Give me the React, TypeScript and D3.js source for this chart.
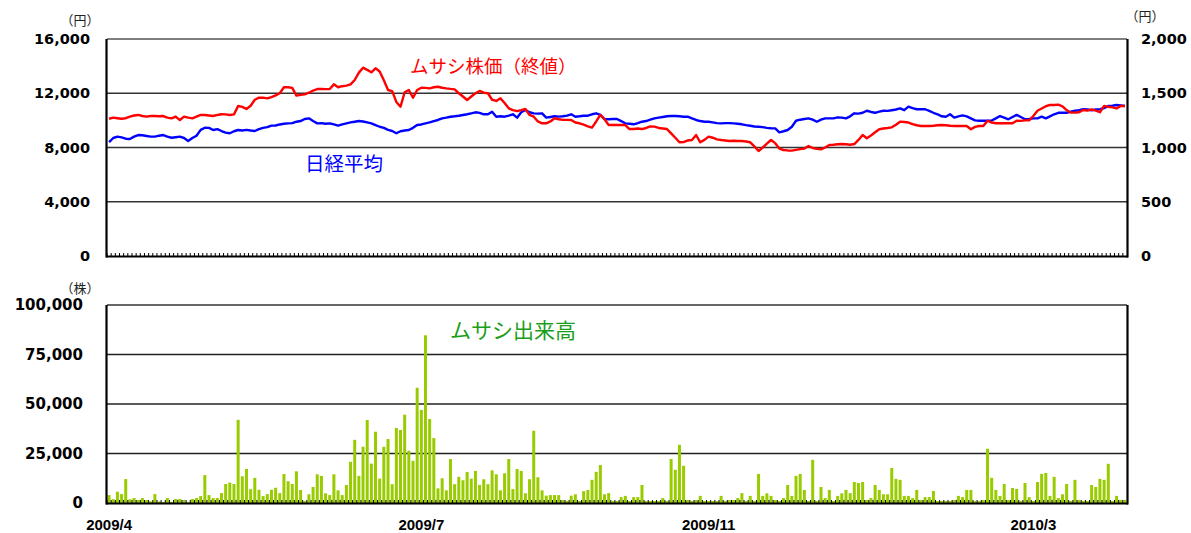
import React from 'react';
import * as d3 from 'd3';

// 日経平均（左軸, 円）
const nikkei = [
  8400, 8700, 8800, 8750, 8650, 8630, 8800, 8920, 8900, 8850,
  8800, 8800, 8870, 8920, 8800, 8720, 8760, 8800, 8700, 8480,
  8700, 8870, 9300, 9460, 9450, 9290, 9350, 9215, 9100, 9050,
  9200, 9290, 9250, 9300, 9250, 9215, 9350, 9450, 9500, 9610,
  9620, 9700, 9750, 9780, 9800, 9900, 9950, 10100, 10150, 9950,
  9780, 9800, 9750, 9780, 9700, 9610, 9700, 9780, 9850, 9900,
  9950, 9920, 9850, 9780, 9650, 9530, 9450, 9300, 9215, 9050,
  9200, 9250, 9290, 9450, 9660, 9700, 9780, 9850, 9950, 10030,
  10150, 10200, 10270, 10300, 10345, 10400, 10450, 10520, 10595, 10550,
  10450, 10450, 10640, 10270, 10300, 10270, 10350, 10450, 10200, 10600,
  10765, 10600, 10520, 10500, 10520, 10200, 10250, 10300, 10280, 10300,
  10350, 10450, 10270, 10300, 10345, 10345, 10450, 10520, 10400, 10100,
  10080, 10100, 10100, 9950, 9780, 9750, 9710, 9800, 9900, 9950,
  10050, 10150, 10200, 10250, 10300, 10320, 10320, 10300, 10270, 10270,
  10150, 10030, 9950, 9900, 9900, 9850, 9800, 9780, 9800, 9800,
  9780, 9750, 9710, 9650, 9600, 9550, 9530, 9500, 9450, 9420,
  9410, 9120, 9200, 9290, 9530, 9975, 10050, 10100, 10150, 10050,
  9900, 10050, 10150, 10150, 10150, 10225, 10200, 10150, 10300, 10520,
  10500, 10560, 10710, 10620, 10560, 10650, 10710, 10700, 10750, 10800,
  10890, 10750, 11010, 10900, 10820, 10820, 10820, 10700, 10560, 10450,
  10300, 10270, 10450, 10200, 10300, 10370, 10300, 10150, 10000, 9975,
  9975, 9975, 9990, 10150, 10320, 10200, 10080, 10250, 10400, 10250,
  10080, 10100, 10150, 10150, 10270, 10150, 10300, 10450, 10560, 10560,
  10560, 10650, 10710, 10750, 10820, 10800, 10750, 10800, 10820, 10900,
  11060, 11080, 11135, 11100, 11060,
];

// ムサシ株価（終値, 右軸, 円）
const musashi = [
  1265, 1275, 1270, 1265, 1270, 1285, 1295, 1300, 1290, 1285,
  1290, 1290, 1288, 1290, 1275, 1269, 1285, 1253, 1284, 1275,
  1269, 1285, 1300, 1300, 1295, 1290, 1300, 1306, 1305, 1300,
  1305, 1382, 1375, 1355, 1385, 1440, 1459, 1460, 1453, 1465,
  1480, 1500, 1555, 1555, 1550, 1478, 1485, 1490, 1505, 1525,
  1539, 1540, 1538, 1539, 1582, 1555, 1565, 1570, 1582, 1622,
  1690, 1736, 1715, 1693, 1730, 1700, 1620, 1530, 1520, 1420,
  1376, 1509, 1530, 1459, 1530, 1551, 1550, 1545, 1555, 1560,
  1551, 1545, 1540, 1536, 1500, 1470, 1438, 1470, 1500, 1521,
  1505, 1500, 1440, 1429, 1453, 1410, 1361, 1345, 1336, 1345,
  1355, 1300, 1284, 1240, 1223, 1223, 1240, 1269, 1260, 1255,
  1255, 1253, 1230, 1223, 1210, 1195, 1183, 1240, 1300, 1260,
  1207, 1207, 1207, 1207, 1207, 1170, 1170, 1175, 1170, 1180,
  1195, 1192, 1180, 1175, 1170, 1130, 1090, 1048, 1050, 1065,
  1069, 1115, 1048, 1070, 1100, 1090, 1075, 1069, 1065, 1060,
  1062, 1060, 1060, 1055, 1048, 1010, 968, 1000, 1035, 1069,
  1040, 990, 977, 973, 971, 978, 985, 990, 1014, 995,
  988, 983, 1000, 1023, 1025, 1030, 1032, 1030, 1025, 1032,
  1070, 1115, 1085, 1110, 1140, 1168, 1175, 1180, 1186, 1210,
  1238, 1235, 1230, 1215, 1205, 1198, 1198, 1198, 1200, 1205,
  1207, 1205, 1200, 1198, 1198, 1198, 1198, 1168, 1190, 1198,
  1198, 1247, 1230, 1223, 1223, 1223, 1223, 1223, 1247, 1245,
  1250, 1250, 1290, 1339, 1360, 1380, 1392, 1392, 1395, 1380,
  1345, 1321, 1321, 1325, 1346, 1340, 1350, 1340, 1325, 1383,
  1375, 1370, 1360, 1383, 1383,
];

// ムサシ出来高（株）
const volume = [
  4000, 1900, 5700, 4500, 12100, 1900, 2500, 1500, 2500, 1500,
  800, 4500, 800, 500, 2500, 500, 2000, 2000, 1500, 500,
  2000, 2500, 3500, 14100, 4000, 2500, 2500, 5000, 9600, 10300,
  9600, 42000, 13500, 17200, 7000, 12700, 6700, 3500, 4500, 6700,
  7700, 5000, 14600, 11000, 9600, 16000, 6600, 1000, 4400, 8100,
  14500, 13700, 4900, 4000, 14500, 6400, 4000, 9100, 20800, 31900,
  13700, 28400, 41900, 19900, 36000, 12300, 28400, 32300, 9500, 37900,
  36900, 44600, 26400, 21300, 58200, 47000, 84700, 42400, 32800, 7400,
  12500, 6400, 22200, 9500, 13200, 11500, 15700, 12300, 16200, 9100,
  12000, 9500, 16500, 14500, 6400, 15000, 22200, 7000, 17200, 16200,
  4900, 12000, 36500, 13000, 6400, 3700, 4000, 4000, 4000, 1500,
  1000, 3700, 4400, 1000, 6000, 6600, 11700, 15700, 19200, 4400,
  5000, 1000, 1000, 3000, 3600, 1000, 3000, 3000, 9100, 1000,
  1000, 1000, 1000, 2500, 1000, 22200, 16800, 29400, 18800, 1500,
  1000, 1500, 3600, 1000, 1000, 1000, 1000, 3600, 1000, 1500,
  1500, 2500, 5000, 1000, 3600, 1000, 14700, 3600, 4900, 3600,
  1500, 1000, 2500, 9100, 3600, 13700, 14700, 6600, 1000, 21800,
  1000, 8100, 2500, 6600, 1000, 3600, 4900, 6600, 5000, 10600,
  10100, 10600, 1500, 2500, 9100, 6600, 4400, 4400, 17700, 12200,
  11700, 3600, 3600, 2500, 6600, 1500, 3000, 3000, 6100, 1000,
  1000, 1000, 1000, 1500, 3600, 3000, 6600, 6600, 1000, 1000,
  1500, 27400, 12700, 6600, 3600, 9600, 1500, 7600, 7100, 1000,
  10100, 3000, 1000, 10600, 14700, 15200, 3600, 13200, 2500, 4400,
  9600, 1000, 11700, 1500, 1000, 1000, 9100, 8100, 12200, 11700,
  19800, 1000, 3600, 1500, 1500,
];

const xTickLabels = ['2009/4', '2009/7', '2009/11', '2010/3'];
const xTickIndex = [0, 75, 144, 222];
const leftTicks = [0, 4000, 8000, 12000, 16000];
const rightTicks = [0, 500, 1000, 1500, 2000];
const volTicks = [0, 25000, 50000, 75000, 100000];

const numFont = '"DejaVu Sans", sans-serif';
const jpFont = '"Noto Sans CJK JP", sans-serif';
const fmt = d3.format(',');

const App = () => {
  const width = 1191;
  const height = 533;
  const left = 107;
  const right = 1127;
  const top1 = 39;
  const bottom1 = 256;
  const top2 = 305;
  const bottom2 = 503;

  const idx = d3.range(volume.length);
  const x = d3.scaleBand<number>().domain(idx).range([left, right]);
  const bw = x.bandwidth();
  const cx = (i: number) => (x(i) as number) + bw / 2;

  const yL = d3.scaleLinear().domain([0, 16000]).range([bottom1, top1]);
  const yR = d3.scaleLinear().domain([0, 2000]).range([bottom1, top1]);
  const yV = d3.scaleLinear().domain([0, 100000]).range([bottom2, top2]);

  const lineL = d3.line<number>().x((d, i) => cx(i)).y(d => yL(d));
  const lineR = d3.line<number>().x((d, i) => cx(i)).y(d => yR(d));

  const barW = bw * 0.72;

  const ticksRow = (yBase: number) =>
    idx.map(i => (
      <line key={i} x1={x(i) as number} x2={x(i) as number} y1={yBase - 3} y2={yBase} stroke="#000" strokeWidth={1} />
    ));

  return (
    <svg width={width} height={height} style={{ position: 'absolute', left: 0, top: 0, background: '#fff' }}>
      <rect x={0} y={0} width={width} height={height} fill="#fff" />

      {/* ---- top panel ---- */}
      {leftTicks.slice(1, -1).map(t => (
        <line key={t} x1={left} x2={right} y1={yL(t)} y2={yL(t)} stroke="#333" strokeWidth={1.3} />
      ))}
      <line x1={left} x2={right} y1={top1} y2={top1} stroke="#000" strokeWidth={1} />
      <path d={lineL(nikkei) as string} fill="none" stroke="#0000ff" strokeWidth={2.4} strokeLinejoin="round" />
      <path d={lineR(musashi) as string} fill="none" stroke="#ff0000" strokeWidth={2.4} strokeLinejoin="round" />
      {ticksRow(bottom1)}
      <line x1={left - 1} x2={right + 1} y1={bottom1 + 0.5} y2={bottom1 + 0.5} stroke="#000" strokeWidth={2} />
      <line x1={left - 0.5} x2={left - 0.5} y1={top1} y2={bottom1 + 1.5} stroke="#000" strokeWidth={2.2} />
      <line x1={right + 0.5} x2={right + 0.5} y1={top1} y2={bottom1 + 1.5} stroke="#000" strokeWidth={2.2} />

      {leftTicks.map(t => (
        <text key={t} x={90} y={yL(t)} dy="0.36em" textAnchor="end" fontFamily={numFont} fontWeight="bold" fontSize={14.5} fill="#000">
          {fmt(t)}
        </text>
      ))}
      {rightTicks.map(t => (
        <text key={t} x={1141} y={yR(t)} dy="0.36em" textAnchor="start" fontFamily={numFont} fontWeight="bold" fontSize={14.5} fill="#000">
          {fmt(t)}
        </text>
      ))}
      <text x={80} y={25} textAnchor="middle" fontFamily={jpFont} fontSize={13} fill="#222">（円）</text>
      <text x={1145} y={21} textAnchor="middle" fontFamily={jpFont} fontSize={13} fill="#222">（円）</text>

      <text x={410} y={73} fontFamily={jpFont} fontSize={18.5} fill="#ff0000">ムサシ株価（終値）</text>
      <text x={305} y={171} fontFamily={jpFont} fontSize={19.5} fill="#0000ff">日経平均</text>

      {/* ---- bottom panel ---- */}
      {volTicks.slice(1, -1).map(t => (
        <line key={t} x1={left} x2={right} y1={yV(t)} y2={yV(t)} stroke="#222" strokeWidth={1.6} />
      ))}
      <line x1={left} x2={right} y1={top2} y2={top2} stroke="#333" strokeWidth={1.3} />
      {volume.map((v, i) => (
        <rect key={i} x={cx(i) - barW / 2} y={yV(v)} width={barW} height={bottom2 - yV(v)} fill="#99cc00" />
      ))}
      {ticksRow(bottom2)}
      <line x1={left - 1} x2={right + 1} y1={bottom2 + 0.5} y2={bottom2 + 0.5} stroke="#000" strokeWidth={2} />
      <line x1={left - 0.5} x2={left - 0.5} y1={top2} y2={bottom2 + 1.5} stroke="#000" strokeWidth={2.2} />
      <line x1={right + 0.5} x2={right + 0.5} y1={top2} y2={bottom2 + 1.5} stroke="#000" strokeWidth={2.2} />

      {volTicks.map(t => (
        <text key={t} x={83} y={yV(t)} dy="0.36em" textAnchor="end" fontFamily={numFont} fontWeight="bold" fontSize={15} fill="#000">
          {fmt(t)}
        </text>
      ))}
      <text x={80} y={293} textAnchor="middle" fontFamily={jpFont} fontSize={13} fill="#222">（株）</text>
      <text x={450} y={338} fontFamily={jpFont} fontSize={21} fill="#1a9e1a">ムサシ出来高</text>

      {xTickLabels.map((lab, k) => (
        <text key={lab} x={cx(xTickIndex[k])} y={530} textAnchor="middle" fontFamily='"Liberation Sans", Arial, sans-serif' fontWeight="bold" fontSize={15} fill="#000">
          {lab}
        </text>
      ))}
    </svg>
  );
};

export default App;
